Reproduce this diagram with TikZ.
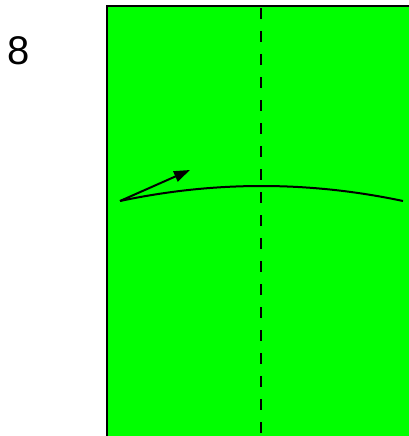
\documentclass[tikz,border=0pt]{standalone}
\usepackage{fontspec}
\setmainfont{Liberation Sans}
\usetikzlibrary{arrows.meta}
\begin{document}
\begin{tikzpicture}[x=1pt,y=-1pt,
  paper/.style={fill={rgb,255:red,0;green,255;blue,0},draw=black,line width=2.6pt},
  crease/.style={line width=2.6pt,dash pattern=on 11pt off 12pt},
  foldline/.style={line width=2pt},
  arr/.style={line width=2pt,-{Triangle[length=16pt,width=11pt]}}]
\useasboundingbox (0,0) rectangle (409,436);
\clip (0,0) rectangle (409,436);
\node[font=\fontsize{40}{41}\selectfont,inner sep=0pt] (num) at (18.5,51) {8};
\draw[paper] (107,6) rectangle (430,460);
\coordinate (ct) at (261,8);
\coordinate (cb) at (261,440);
\draw[crease] (ct) -- (cb);
\coordinate (L) at (120,201);
\coordinate (R) at (403,201);
\coordinate (A) at (190,170);
\draw[foldline] (L) .. controls (214.3,181) and (308.7,181) .. (R);
\draw[arr] (L) -- (A);
\end{tikzpicture}
\end{document}
